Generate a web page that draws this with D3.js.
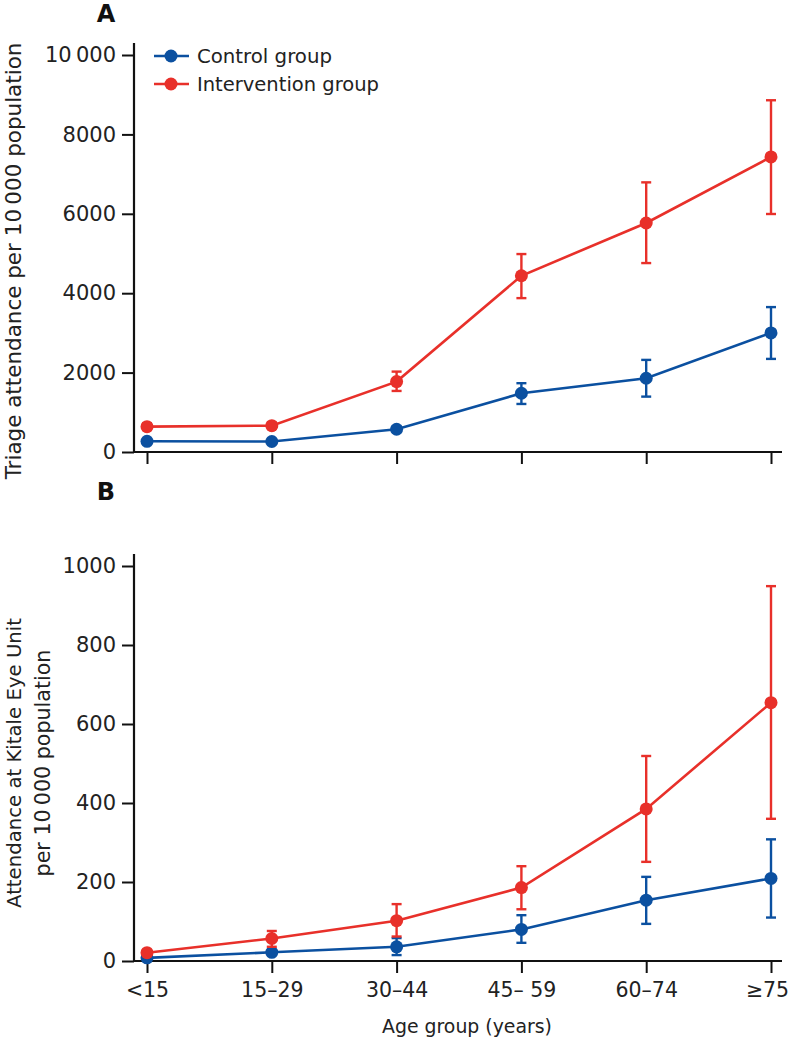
<!DOCTYPE html>
<html><head><meta charset="utf-8">
<script src="https://cdn.jsdelivr.net/npm/d3@7"></script>
<style>body{margin:0;background:#fff}svg{display:block;font-family:"DejaVu Sans","Open Sans",sans-serif}</style>
</head><body>
<svg id="c" width="789" height="1040"></svg>
<script>
const categories = ["<15","15–29","30–44","45– 59","60–74","≥75"];
// Panel A: triage attendance per 10 000
const aControl     = [270, 265, 573, 1480, 1858, 3000];
const aControlLo   = [null, null, 505, 1210, 1395, 2345];
const aControlHi   = [null, null, 645, 1733, 2320, 3650];
const aInterv      = [638, 663, 1773, 4439, 5768, 7432];
const aIntervLo    = [560, 590, 1538, 3876, 4759, 5995];
const aIntervHi    = [720, 740, 2025, 4986, 6792, 8860];
const aTicks = [0, 2000, 4000, 6000, 8000, 10000];
// Panel B: attendance at Kitale Eye Unit per 10 000
const bControl     = [8, 22, 36, 80, 154, 209];
const bControlLo   = [null, null, 15, 46, 94, 110];
const bControlHi   = [null, null, 58, 116, 213, 308];
const bInterv      = [21, 57, 102, 186, 385, 654];
const bIntervLo    = [null, 36, 62, 131, 251, 360];
const bIntervHi    = [null, 76, 144, 240, 519, 949];
const bTicks = [0, 200, 400, 600, 800, 1000];
const seriesNames = ["Control group", "Intervention group"];
const colors = ["#0b50a0", "#e8302a"];

const svg = d3.select("#c");
const x = d3.scalePoint().domain(categories).range([147, 771]);

// scale font so the text spans the target width
function fit(sel, target) {
  const n = sel.node();
  const fs = parseFloat(sel.attr("font-size"));
  const w = n.getComputedTextLength();
  sel.attr("font-size", (fs * target / w).toFixed(2));
  return sel;
}

function panel(y0, y1, max, ticks, fmt, series, letter, letterY, titleLines) {
  const y = d3.scaleLinear().domain([0, max]).range([y0, y1]);
  const g = svg.append("g");
  const ya = g.append("g").attr("transform", "translate(134,0)")
    .call(d3.axisLeft(y).tickValues(ticks).tickFormat(fmt).tickSize(12).tickSizeOuter(0).tickPadding(6));
  ya.select(".domain").remove();
  ya.selectAll(".tick line").attr("stroke", "#111").attr("stroke-width", 2);
  ya.selectAll(".tick text").attr("font-size", 21).attr("fill", "#222").attr("font-family", '"DejaVu Sans",sans-serif');
  g.append("line").attr("x1", 134).attr("x2", 134).attr("y1", y0 + 1).attr("y2", y1 - 12)
    .attr("stroke", "#111").attr("stroke-width", 2.2);
  const xa = g.append("g").attr("transform", `translate(0,${y0})`)
    .call(d3.axisBottom(x).tickSize(12).tickSizeOuter(0).tickPadding(9));
  xa.select(".domain").remove();
  xa.selectAll(".tick line").attr("stroke", "#111").attr("stroke-width", 2);
  xa.selectAll(".tick text").attr("font-size", 20.5).attr("fill", "#222").attr("font-family", '"DejaVu Sans",sans-serif')
    .style("display", letter === "B" ? null : "none")
    .attr("dx", (d, k) => k === categories.length - 1 ? -4 : 0);
  g.append("line").attr("x1", 133).attr("x2", 782).attr("y1", y0).attr("y2", y0)
    .attr("stroke", "#111").attr("stroke-width", 2.2);
  series.forEach((s, i) => {
    const c = colors[i];
    const line = d3.line().x((d, k) => x(categories[k])).y(d => y(d));
    g.append("path").datum(s.v).attr("d", line).attr("fill", "none").attr("stroke", c).attr("stroke-width", 2.6);
    s.v.forEach((v, k) => {
      const cx = x(categories[k]);
      if (s.lo[k] != null) {
        const eg = g.append("g").attr("stroke", c).attr("stroke-width", 2.4);
        eg.append("line").attr("x1", cx).attr("x2", cx).attr("y1", y(s.lo[k])).attr("y2", y(s.hi[k]));
        eg.append("line").attr("x1", cx - 5).attr("x2", cx + 5).attr("y1", y(s.lo[k])).attr("y2", y(s.lo[k]));
        eg.append("line").attr("x1", cx - 5).attr("x2", cx + 5).attr("y1", y(s.hi[k])).attr("y2", y(s.hi[k]));
      }
      g.append("circle").attr("cx", cx).attr("cy", y(v)).attr("r", 6.5).attr("fill", c);
    });
  });
  g.append("text").attr("x", 106).attr("y", letterY).attr("text-anchor", "middle")
    .attr("font-size", 24).attr("font-weight", "bold").attr("fill", "#111").text(letter);
  titleLines.forEach(t => {
    const tx = g.append("text").attr("transform", `translate(${t.x},${t.cy}) rotate(-90)`)
      .attr("text-anchor", "middle").attr("font-size", 19).attr("fill", "#222").text(t.text);
    fit(tx, t.w);
  });
}

const thin = d => d >= 10000 ? d3.format(",")(d).replace(",", "\u2009") : String(d);
panel(452, 55, 10000, aTicks, thin,
  [{v: aControl, lo: aControlLo, hi: aControlHi}, {v: aInterv, lo: aIntervLo, hi: aIntervHi}],
  "A", 22, [{text: "Triage attendance per 10\u2009000 population", x: 21, cy: 261, w: 437}]);
panel(961, 566, 1000, bTicks, d => String(d),
  [{v: bControl, lo: bControlLo, hi: bControlHi}, {v: bInterv, lo: bIntervLo, hi: bIntervHi}],
  "B", 500, [{text: "Attendance at Kitale Eye Unit", x: 21, cy: 763, w: 290},
             {text: "per 10\u2009000 population", x: 50, cy: 763, w: 227}]);

seriesNames.forEach((n, i) => {
  const ly = 56 + i * 28;
  svg.append("line").attr("x1", 154).attr("x2", 189).attr("y1", ly).attr("y2", ly)
    .attr("stroke", colors[i]).attr("stroke-width", 2.6);
  svg.append("circle").attr("cx", 171).attr("cy", ly).attr("r", 6.5).attr("fill", colors[i]);
  const t = svg.append("text").attr("x", 197).attr("y", ly + 7).attr("font-size", 20).attr("fill", "#222").text(n);
  fit(t, i === 0 ? 135 : 182);
});

fit(svg.append("text").attr("x", 467).attr("y", 1033).attr("text-anchor", "middle")
  .attr("font-size", 19).attr("fill", "#222").text("Age group (years)"), 170);
</script>
</body></html>
